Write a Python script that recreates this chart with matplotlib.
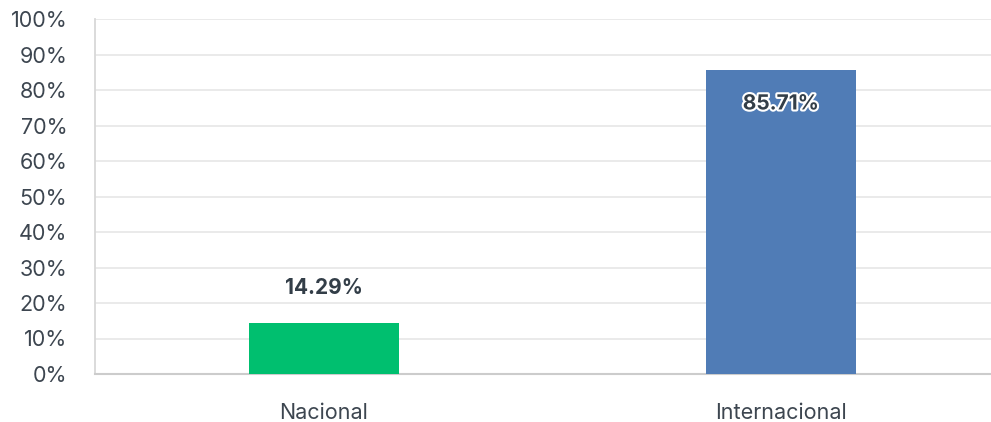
import matplotlib
matplotlib.use('Agg')
import matplotlib.pyplot as plt
import matplotlib.patheffects as pe
from matplotlib.ticker import FuncFormatter

categories = ['Nacional', 'Internacional']
values = [14.29, 85.71]
colors = ['#00bf6f', '#507cb6']
yticks = list(range(0, 101, 10))

plt.rcParams['font.family'] = ['Inter', 'DejaVu Sans']

fig = plt.figure(figsize=(9.91, 4.22), dpi=100)
ax = fig.add_axes([95/991, 48/422, 896/991, 355/422])

x = list(range(len(categories)))
bars = ax.bar(x, values, width=0.328, color=colors, zorder=3)

ax.set_xlim(-0.5, 1.4595)
ax.set_ylim(0, 100)
ax.set_yticks(yticks)
ax.yaxis.set_major_formatter(FuncFormatter(lambda v, p: f'{v:.0f}%'))
ax.set_xticks(x)
ax.set_xticklabels(categories)
ax.tick_params(axis='both', length=0, labelsize=15.5, colors='#3d4650')
ax.tick_params(axis='x', pad=21)
ax.tick_params(axis='y', pad=20)
for lbl in ax.get_yticklabels():
    lbl.set_horizontalalignment('right')

ax.grid(axis='y', color='#e8e8e8', linewidth=1.3, zorder=0)
for s in ['top', 'right']:
    ax.spines[s].set_visible(False)
ax.spines['left'].set_color('#d8d8d8')
ax.spines['left'].set_linewidth(1.3)
ax.spines['bottom'].set_color('#cccccc')
ax.spines['bottom'].set_linewidth(1.5)

for b, v in zip(bars, values):
    cx = b.get_x() + b.get_width() / 2
    if v > 50:
        ax.text(cx, v - 9.5, f'{v:.2f}%', ha='center', va='center', fontsize=15,
                fontweight='bold', color='#333e48', zorder=4,
                path_effects=[pe.withStroke(linewidth=3, foreground='white')])
    else:
        ax.text(cx, v + 7, f'{v:.2f}%', ha='center', va='bottom', fontsize=15,
                fontweight='bold', color='#333e48', zorder=4)

fig.savefig('out.png', dpi=100)
